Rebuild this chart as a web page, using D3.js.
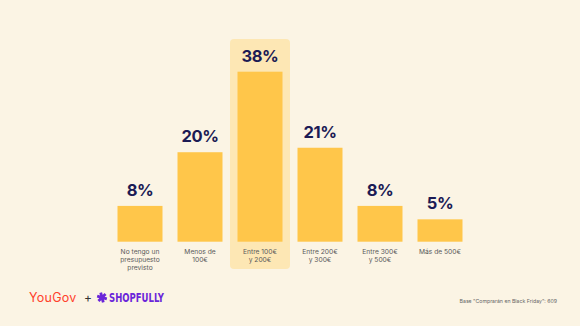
<!DOCTYPE html>
<html><head><meta charset="utf-8">
<script src="https://cdn.jsdelivr.net/npm/d3@7"></script>
<style>html,body{margin:0;padding:0;background:#fbf4e4;}svg{display:block;}</style>
</head><body>
<script>
const categories = [["No tengo un","presupuesto","previsto"],["Menos de","100€"],["Entre 100€","y 200€"],["Entre 200€","y 300€"],["Entre 300€","y 500€"],["Más de 500€"]];
const values = [8, 20, 38, 21, 8, 5];
const highlightIndex = 2;
const footnote = "Base \"Comprarán en Black Friday\": 609";

const W = 580, H = 326;
const svg = d3.select("body").append("svg").attr("width", W).attr("height", H);
svg.append("rect").attr("width", W).attr("height", H).attr("fill", "#fbf4e4");

const idx = d3.range(values.length);
const x = d3.scaleBand().domain(idx).range([110, 470]).paddingInner(0.25).paddingOuter(0.125);
const y = d3.scaleLinear().domain([0, 38]).range([241.7, 71.7]);

// highlight
svg.append("rect")
  .attr("x", x(highlightIndex) - x.step() * 0.125)
  .attr("width", x.step())
  .attr("y", 39).attr("height", 230).attr("rx", 4)
  .attr("fill", "#fde7b4");

svg.selectAll("rect.bar").data(idx).join("rect").attr("class", "bar")
  .attr("x", i => x(i)).attr("width", x.bandwidth())
  .attr("y", i => y(values[i])).attr("height", i => y(0) - y(values[i]))
  .attr("fill", "#ffc64a");

svg.selectAll("text.val").data(idx).join("text").attr("class", "val")
  .attr("x", i => x(i) + x.bandwidth() / 2)
  .attr("y", i => y(values[i]) - 10)
  .attr("text-anchor", "middle")
  .attr("font-family", "Inter, sans-serif").attr("font-weight", 700)
  .attr("font-size", 16.5).attr("letter-spacing", -0.4).attr("fill", "#1c1b55")
  .text(i => values[i] + "%");

const lab = svg.selectAll("text.cat").data(idx).join("text").attr("class", "cat")
  .attr("text-anchor", "middle")
  .attr("font-family", "Inter, sans-serif").attr("font-size", 6.7).attr("fill", "#5a5a5a");
lab.each(function(i) {
  d3.select(this).selectAll("tspan").data(categories[i]).join("tspan")
    .attr("x", x(i) + x.bandwidth() / 2)
    .attr("y", (d, j) => 253.5 + j * 8)
    .text(d => d);
});

// logos
svg.append("text").attr("x", 29).attr("y", 302)
  .attr("font-family", "Inter, sans-serif").attr("font-size", 12.5).attr("fill", "#ff412c")
  .attr("textLength", 47).attr("letter-spacing", -0.3).text("YouGov");
svg.append("text").attr("x", 88).attr("y", 302).attr("text-anchor", "middle")
  .attr("font-family", "Inter, sans-serif").attr("font-size", 12).attr("fill", "#333")
  .text("+");
// shopfully star icon
const g = svg.append("g").attr("transform", "translate(102,297.5)").attr("fill", "#6a25d9");
[0, 60, 120].forEach(a => {
  g.append("rect").attr("x", -5).attr("y", -1.4).attr("width", 10).attr("height", 2.8)
    .attr("transform", `rotate(${a + 15})`);
});
g.append("circle").attr("r", 2.5);
svg.append("text").attr("x", 109).attr("y", 302)
  .attr("font-family", "DejaVu Sans Condensed, DejaVu Sans, sans-serif").attr("font-weight", 700)
  .attr("font-size", 11.5).attr("fill", "#6a25d9")
  .attr("textLength", 55).attr("lengthAdjust", "spacingAndGlyphs").text("SHOPFULLY");

svg.append("text").attr("x", 557).attr("y", 303).attr("text-anchor", "end")
  .attr("font-family", "Inter, sans-serif").attr("font-size", 5.2).attr("fill", "#666")
  .text(footnote);
</script>
</body></html>
